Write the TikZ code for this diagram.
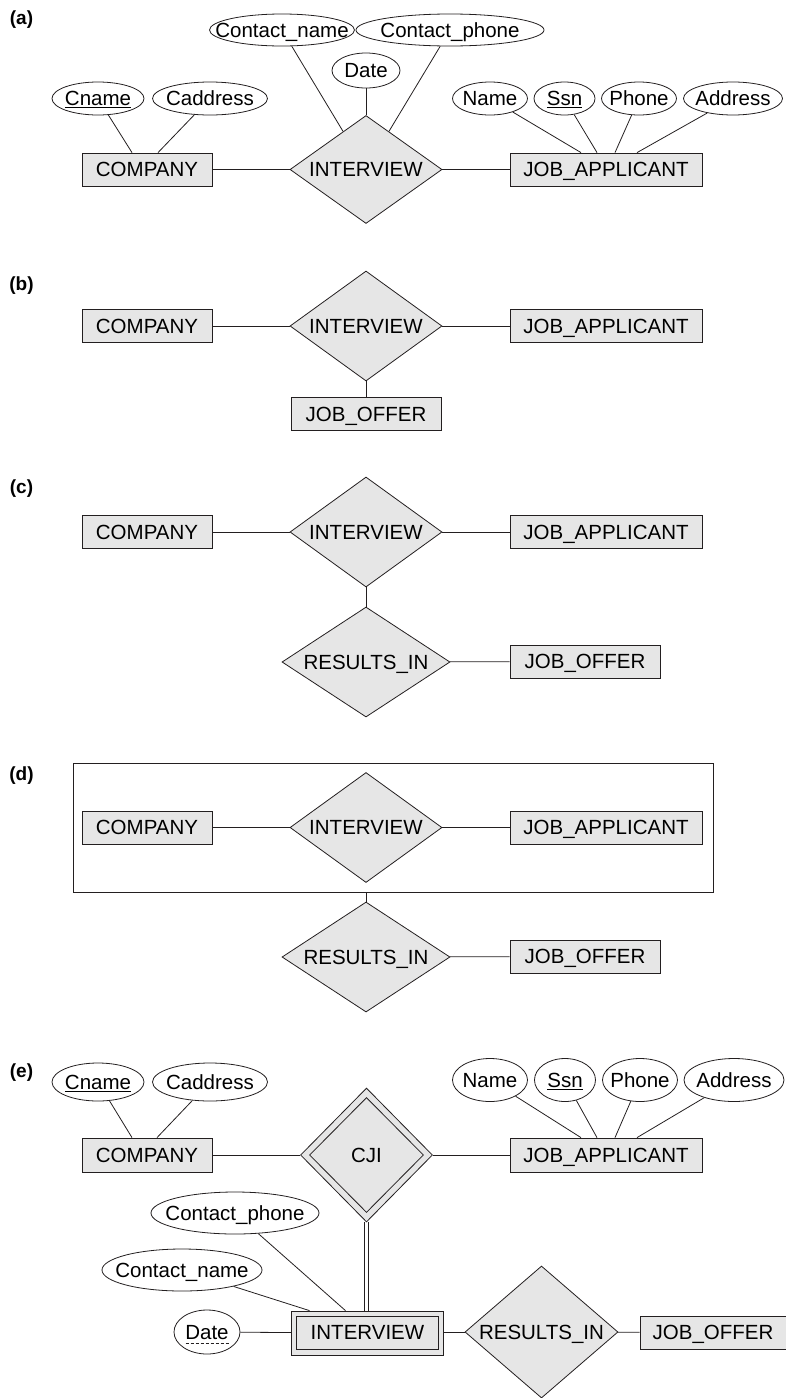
\documentclass[tikz,border=0pt]{standalone}
\usepackage{fontspec}
\setmainfont{Liberation Sans}
\usetikzlibrary{shapes.geometric,backgrounds}
\definecolor{efill}{HTML}{E6E6E6}
\definecolor{ln}{HTML}{231F20}
\newcommand{\erfont}{\fontsize{20.5}{24}\selectfont}
\newcommand{\lblfont}{\fontsize{19}{22}\selectfont\bfseries}
\newcommand{\zw}[1]{\makebox[0pt]{#1}}
\tikzset{
  every node/.style={font=\erfont},
  txt/.style={text height=14.7pt, text depth=0pt},
  ent/.style={rectangle, draw=ln, fill=efill, line width=0.8pt, inner sep=0pt, minimum height=33, txt},
  rel/.style={diamond, draw=ln, fill=efill, line width=0.8pt, inner sep=0pt, aspect=1, txt},
  inner/.style={draw=ln, line width=0.8pt, inner sep=0pt, txt},
  attr/.style={ellipse, draw=ln, fill=white, line width=0.8pt, inner sep=0pt, txt},
  lbl/.style={font=\lblfont, inner sep=0pt},
  conn/.style={draw=ln, line width=0.8pt},
}
\begin{document}
\begin{tikzpicture}[x=1pt,y=-1pt]
\useasboundingbox (0,0) rectangle (785,1398);

% ---------- (a)
\node[lbl] (la) at (21.5,20) {(a)};
\node[ent, minimum width=130] (aco) at (147,169.5) {COMPANY};
\node[rel, minimum width=152, minimum height=108] (aint) at (366,169.5) {\zw{INTERVIEW}};
\node[ent, minimum width=192] (aja) at (606,169.5) {JOB\_APPLICANT};
\node[attr, minimum width=92, minimum height=33] (acn) at (98,98.5) {\zw{\underline{Cname}}};
\node[attr, minimum width=115, minimum height=33] (aca) at (210,98.5) {\zw{Caddress}};
\node[attr, minimum width=145, minimum height=32] (acnm) at (282,30) {\zw{Contact\_name}};
\node[attr, minimum width=188, minimum height=32] (acph) at (450,30) {\zw{Contact\_phone}};
\node[attr, minimum width=68, minimum height=35] (adate) at (366,70.5) {\zw{Date}};
\node[attr, minimum width=75, minimum height=33] (aname) at (490,98.5) {\zw{Name}};
\node[attr, minimum width=61, minimum height=33] (assn) at (564.5,98.5) {\zw{\underline{Ssn}}};
\node[attr, minimum width=75, minimum height=33] (aph) at (639,98.5) {\zw{Phone}};
\node[attr, minimum width=99, minimum height=33] (aad) at (733,98.5) {\zw{Address}};

% ---------- (b)
\node[lbl] (lb) at (21.5,286) {(b)};
\node[ent, minimum width=130] (bco) at (147,326) {COMPANY};
\node[rel, minimum width=152, minimum height=110] (bint) at (366,326) {\zw{INTERVIEW}};
\node[ent, minimum width=192] (bja) at (606,326) {JOB\_APPLICANT};
\node[ent, minimum width=150] (bjo) at (366,414) {JOB\_OFFER};

% ---------- (c)
\node[lbl] (lc) at (21.5,489) {(c)};
\node[ent, minimum width=130] (cco) at (147,532) {COMPANY};
\node[rel, minimum width=152, minimum height=110] (cint) at (366,532) {\zw{INTERVIEW}};
\node[ent, minimum width=192] (cja) at (606,532) {JOB\_APPLICANT};
\node[rel, minimum width=168, minimum height=110] (cres) at (366,662) {\zw{RESULTS\_IN}};
\node[ent, minimum width=150] (cjo) at (585,661.5) {JOB\_OFFER};

% ---------- (d)
\node[lbl] (ld) at (21.5,776) {(d)};
\node[rectangle, draw=ln, line width=0.8pt, inner sep=0pt, minimum width=640, minimum height=129] (dagg) at (393,827.5) {};
\node[ent, minimum width=130] (dco) at (147,827.5) {COMPANY};
\node[rel, minimum width=152, minimum height=110] (dint) at (366,827.5) {\zw{INTERVIEW}};
\node[ent, minimum width=192] (dja) at (606,827.5) {JOB\_APPLICANT};
\node[rel, minimum width=168, minimum height=110] (dres) at (366,957) {\zw{RESULTS\_IN}};
\node[ent, minimum width=150] (djo) at (585,956.5) {JOB\_OFFER};

% ---------- (e)
\node[lbl] (le) at (21.5,1073) {(e)};
\node[attr, minimum width=92, minimum height=38] (ecn) at (98,1082) {\zw{\underline{Cname}}};
\node[attr, minimum width=115, minimum height=38] (eca) at (210,1082) {\zw{Caddress}};
\node[ent, minimum width=130, minimum height=34] (eco) at (147,1155) {COMPANY};
\node[rel, minimum width=132, minimum height=134] (ecji) at (366.5,1155) {};
\node[diamond, inner, minimum width=114, minimum height=115] (ecjiin) at (366.5,1155) {\zw{CJI}};
\node[ent, minimum width=192, minimum height=34] (eja) at (606,1155) {JOB\_APPLICANT};
\node[attr, minimum width=75, minimum height=43] (ename) at (490,1080) {\zw{Name}};
\node[attr, minimum width=61, minimum height=43] (essn) at (565,1080) {\zw{\underline{Ssn}}};
\node[attr, minimum width=75, minimum height=43] (eph) at (640,1080) {\zw{Phone}};
\node[attr, minimum width=100, minimum height=43] (ead) at (734,1080) {\zw{Address}};
\node[attr, minimum width=168, minimum height=42] (ecph) at (235,1213) {\zw{Contact\_phone}};
\node[attr, minimum width=160, minimum height=42] (ecnm) at (182,1270) {\zw{Contact\_name}};
\node[attr, minimum width=66, minimum height=44] (edate) at (207,1332) {\zw{Date}};
\draw[ln, line width=0.7pt, dash pattern=on 3pt off 2pt] ([xshift=-21.5pt,yshift=-3.5pt]edate.base) -- ([xshift=21.5pt,yshift=-3.5pt]edate.base);
\node[ent, minimum width=152, minimum height=44] (eint) at (367.5,1333) {};
\node[rectangle, inner, minimum width=142, minimum height=33] (eintin) at (367.5,1332.5) {INTERVIEW};
\node[rel, minimum width=153, minimum height=132] (eres) at (541.5,1332) {\zw{RESULTS\_IN}};
\node[ent, minimum width=146, minimum height=33] (ejo) at (713,1332.5) {JOB\_OFFER};

\begin{scope}[on background layer]
% (a)
\draw[conn] (acn) -- ([xshift=-15pt]aco.north);
\draw[conn] (aca) -- ([xshift=11pt]aco.north);
\draw[conn] (aco) -- (aint);
\draw[conn] (aint) -- (aja);
\draw[conn] (acnm) -- (aint);
\draw[conn] (acph) -- (aint);
\draw[conn] (adate) -- (aint);
\draw[conn] (aname) -- ([xshift=-25pt]aja.north);
\draw[conn] (assn) -- ([xshift=-9pt]aja.north);
\draw[conn] (aph) -- ([xshift=9pt]aja.north);
\draw[conn] (aad) -- ([xshift=31pt]aja.north);
% (b)
\draw[conn] (bco) -- (bint);
\draw[conn] (bint) -- (bja);
\draw[conn] (bint) -- (bjo);
% (c)
\draw[conn] (cco) -- (cint);
\draw[conn] (cint) -- (cja);
\draw[conn] (cint) -- (cres);
\draw[conn] (cres) -- (cjo);
% (d)
\draw[conn] (dco) -- (dint);
\draw[conn] (dint) -- (dja);
\draw[conn] (dagg.south -| dres.north) -- (dres.north);
\draw[conn] (dres) -- (djo);
% (e)
\draw[conn] (ecn) -- ([xshift=-15pt]eco.north);
\draw[conn] (eca) -- ([xshift=10pt]eco.north);
\draw[conn] (eco) -- (ecji);
\draw[conn] (ecji) -- (eja);
\draw[conn] (ename) -- ([xshift=-25pt]eja.north);
\draw[conn] (essn) -- ([xshift=-9pt]eja.north);
\draw[conn] (eph) -- ([xshift=9pt]eja.north);
\draw[conn] (ead) -- ([xshift=31pt]eja.north);
\draw[conn, double=white, double distance=3.5pt] (ecji.south) -- (ecji.south |- eint.north);
\draw[conn] (ecph) -- ([xshift=-22pt]eint.north);
\draw[conn] (ecnm) -- ([xshift=-58pt]eint.north);
\draw[conn] (edate) -- (eint);
\draw[conn] (eint) -- (eres);
\draw[conn] (eres) -- (ejo);
\end{scope}
\end{tikzpicture}
\end{document}
